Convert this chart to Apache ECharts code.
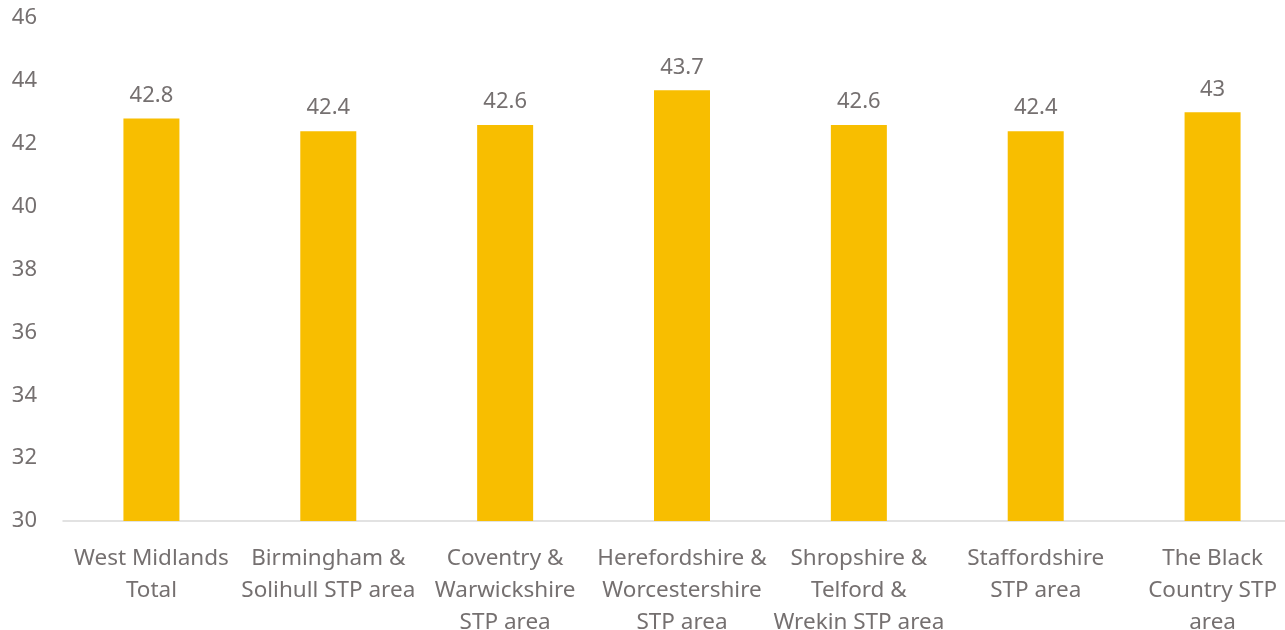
<!DOCTYPE html>
<html>
<head>
<meta charset="utf-8">
<script src="https://cdn.jsdelivr.net/npm/echarts@6/dist/echarts.min.js"></script>
<style>
  html, body { margin: 0; padding: 0; background: #fff; }
  #chart { width: 1285px; height: 630px; }
</style>
</head>
<body>
<div id="chart"></div>
<script>
const categories = [
  'West Midlands\nTotal',
  'Birmingham &\nSolihull STP area',
  'Coventry &\nWarwickshire\nSTP area',
  'Herefordshire &\nWorcestershire\nSTP area',
  'Shropshire &\nTelford &\nWrekin STP area',
  'Staffordshire\nSTP area',
  'The Black\nCountry STP\narea'
]
const values = [42.8, 42.4, 42.6, 43.7, 42.6, 42.4, 43]

const textColor = '#757070'
const fontFamily = '"Noto Sans", "Open Sans", sans-serif'

const chart = echarts.init(document.getElementById('chart'))

chart.setOption({
  animation: false,
  grid: { left: 63, width: 1238, top: 18, bottom: 109, outerBoundsMode: 'none', containLabel: false },
  xAxis: {
    type: 'category',
    data: categories,
    axisLine: { lineStyle: { color: '#d9d9d9', width: 1.5 } },
    axisTick: { show: false },
    axisLabel: {
      color: textColor,
      fontFamily: fontFamily,
      fontSize: 22.5,
      lineHeight: 32,
      margin: 22,
      interval: 0
    }
  },
  yAxis: {
    type: 'value',
    min: 30,
    max: 46,
    interval: 2,
    splitLine: { show: false },
    axisLine: { show: false },
    axisTick: { show: false },
    axisLabel: {
      color: textColor,
      fontFamily: fontFamily,
      fontSize: 22,
      margin: 26
    }
  },
  series: [{
    type: 'bar',
    data: values,
    barWidth: 56,
    itemStyle: { color: '#f8be00' },
    label: {
      show: true,
      position: 'top',
      distance: 12,
      color: textColor,
      fontFamily: fontFamily,
      fontSize: 22
    }
  }]
})
</script>
</body>
</html>
